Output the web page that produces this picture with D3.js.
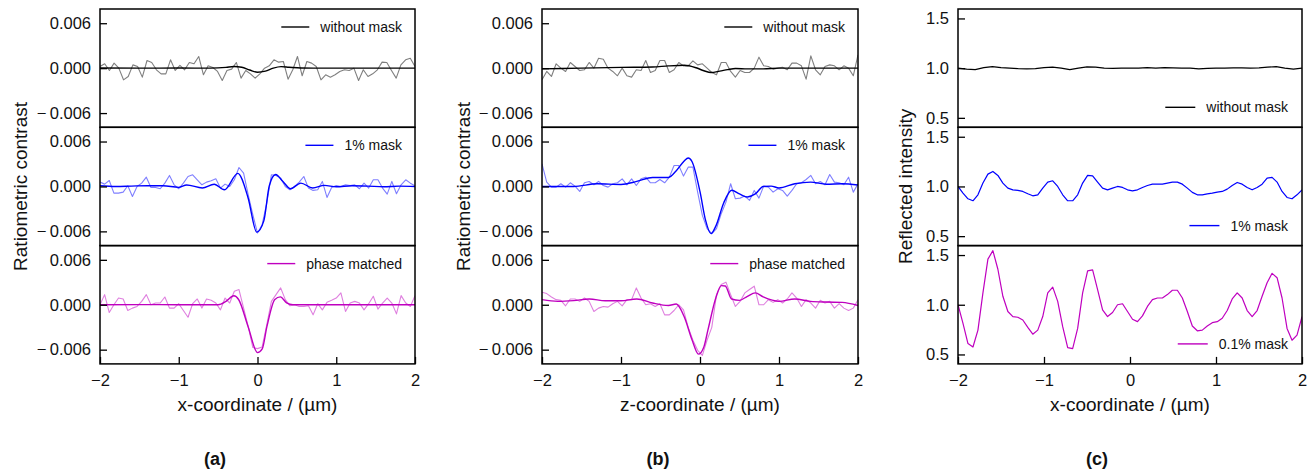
<!DOCTYPE html>
<html lang="en">
<head>
<meta charset="UTF-8">
<title>Ratiometric contrast</title>
<script src="https://cdn.jsdelivr.net/npm/d3@7"></script>
<style>
  body { margin: 0; background: #fff; }
  svg text { font-family: "Liberation Sans", Arial, sans-serif; fill: #111; }
</style>
</head>
<body>
<svg width="1315" height="470"></svg>
<script>
// ticks
var xTicks = [-2, -1, 0, 1, 2];
var xTickLabels = ['\u22122', '\u22121', '0', '1', '2'];
var contrastTicks = [-6, 0, 6];               // in units of 10^-3
var contrastTickLabels = ['\u2212\u20090.006', '0.000', '0.006'];
var intensityTicks = [0.5, 1.0, 1.5];
var intensityTickLabels = ['0.5', '1.0', '1.5'];

// (a) raw measurements, evenly spaced over -2..2 um (x 10^-3)
var aRawNoMask = [0.22, 0.58, -0.31, 0.67, 0, -1.56, -1.11, 0.44, 0.22, -1.2,
  1.02, 0.76, -0.22, -0.76, -0.76, 1.11, -0.31, 0.36, -0.22, 0.76,
  0.58, 1.56, -0.89, 0.31, 0.09, -0.44, -1.64, -0.31, -0.13, 0.76,
  -1.33, -0.31, -0.76, -1.33, -0.76, 0, 0.31, 1.11, 0.8, 0.89,
  -1.47, -0.22, 1.56, -1.02, 0.89, 0.67, 0.22, -1.56, -0.89, -1.2,
  -0.89, -0.44, -0.22, -0.31, 0, -1.64, -0.22, -1.11, -0.76, -0.22,
  0.8, 0.76, -0.31, -1.33, 0.44, 1.11, 1.33, 0.22];
var aRawMask = [0.58, 0.31, 0.8, -0.89, -0.89, -0.76, 0.09, -1.33, 0, 0.44,
  1.24, -0.13, -0.13, -0.31, 0.44, 1.47, 0.22, -0.31, 0.44, 1.33,
  1.56, 0.89, 0.22, 0.58, 0.76, 1.02, -0.22, 0.31, 0, 0.89,
  2.53, 1.78, -1.11, -3.78, -6.22, -5.11, -2.22, 1.56, 1.47, 1.11,
  0, -0.44, 0, 0.58, 1.33, -0.22, -0.53, -0.44, 0.67, -1.47,
  -0.13, 0.13, 0, 0.22, 0.13, 0.22, -0.31, 0.44, -0.22, 0.89,
  0.89, -0.22, -1.02, 0.67, -0.98, 0.22, 0.89, 0.44, 0.09];
var aRawPhase = [0, 1.35, -1.04, 0, 0.9, 0.77, -0.77, -0.45, -0.23, 0.45,
  1.35, 0, 0.23, 0.23, 1.04, -0.45, -0.45, 0.14, -0.77, -1.67,
  0.14, 0.77, -0.45, 0.77, 0.59, 0.23, -0.68, 0.9, 0.23, 1.8,
  2.03, -0.45, -2.93, -5.72, -5.86, -5.63, -2.7, 0.45, 1.35, 2.25,
  0.68, -0.14, 0, -0.23, -0.23, -0.14, -1.35, 0.14, -0.68, 0.32,
  0.59, 0.9, 1.58, -0.9, 0.23, 0.45, 0.23, -0.68, 0.14, 1.13,
  -0.59, 0.23, 0.9, 0.23, -1.22, 1.22, 0.23, -0.23, 1.22];

// (a) fitted curves [x um, value x 10^-3]
var aFitNoMask = [[-2, 0.02], [-1.5, 0], [-1, 0.02], [-0.6, 0], [-0.4, 0.1], [-0.3, 0.22],
  [-0.2, 0.12], [-0.1, -0.25], [0, -0.55], [0.1, -0.4], [0.2, 0], [0.3, 0.2],
  [0.4, 0.12], [0.55, 0.02], [1, 0], [1.5, 0], [2, 0]];
var aFitMask = [[-2, 0.1], [-1.8, 0], [-1.6, 0.05], [-1.4, 0.1], [-1.2, 0.1], [-1.0, -0.12],
  [-0.9, 0.2], [-0.7, -0.2], [-0.55, 0.3], [-0.42, -0.45], [-0.25, 1.75], [-0.12, -1.5],
  [-0.01, -6.1], [0.08, -4.6], [0.15, 0.1], [0.23, 1.6], [0.32, 0.7], [0.42, -0.3],
  [0.55, 0.45], [0.7, -0.2], [0.85, 0.15], [1.0, -0.05], [1.2, 0.1], [1.4, 0.05],
  [1.6, -0.05], [1.8, 0.05], [2, 0]];
var aFitPhase = [[-2, 0], [-1.5, 0.02], [-1, 0], [-0.5, 0], [-0.4, 0.45], [-0.3, 1.2],
  [-0.24, 0.7], [-0.12, -2.9], [0, -6.4], [0.06, -5.9], [0.12, -2.9], [0.22, 0.7],
  [0.29, 1.05], [0.37, 0.25], [0.45, 0], [1, 0], [1.5, 0], [2, 0]];

// (b) raw measurements, evenly spaced over -2..2 um (x 10^-3)
var bRawNoMask = [-1.56, -0.44, -1.11, 0.58, 0, -0.44, 0.76, 0.22, -0.31, -0.22,
  0.76, 0, 1.33, 1.2, 0, -0.44, -1.02, 0, -1.02, -1.2,
  -0.22, -0.31, 1.02, -0.58, -0.31, 1.02, 1.02, -0.58, -0.22, 0.76,
  0.31, 0.31, 0.98, 0.44, 0.58, 0, -0.58, -0.89, 0.76, 0.76,
  -0.44, -1.2, -0.31, -0.58, -0.58, 0, 1.47, 0.31, 0.22, -0.13,
  0, 0.13, -0.22, 0.67, 0.67, 0.31, -1.47, 1.64, -0.22, -0.89,
  0.22, 0.44, 0.31, -0.22, 0.31, 0, -1.02, 1.78];
var bRawMask = [3.02, 0.58, -0.09, -0.09, 0.36, -0.09, 0.49, 0.04, -0.67, 0.49,
  0.67, 0.22, 0.67, 0.13, -0.09, 0.36, 0.49, 1.02, 0.22, 1.02,
  0.13, 1.02, 1.24, 0.49, 0.49, 0.93, 0.49, 1.24, 2.8, 2.8,
  1.38, 2.58, 2.58, -0.76, -3.87, -5.64, -6.31, -5.64, -3.64, -2.09,
  0.36, -1.64, -1.56, -1.29, -1.87, -0.53, -1.56, 0.04, -0.09, -0.76,
  -0.31, -0.53, -1.29, -0.53, 0.36, 0.49, 0.93, 1.47, 0.36, 0.67,
  0.22, 1.6, 0.58, 0.49, 0.22, 1.24, -0.76, 0.36];
var bRawPhase = [1.67, 1.49, 1.04, 0.68, 0.59, -0.14, 0.77, 0.77, 0.45, 0.9,
  0.45, -0.9, -0.45, -0.23, -0.32, 0.14, 0.45, -0.14, 0.68, 0.68,
  2.25, 0.9, 0, 0.14, -0.23, 0.14, -1.35, -1.35, -0.77, 0,
  -0.68, -3.02, -4.73, -6.08, -6.76, -4.73, -3.02, 1.35, 2.7, 3.02,
  1.35, -0.23, 0.45, 1.58, 2.03, 2.48, 0, 0, 0.68, 0.32,
  0.68, 0.23, 0.77, 1.58, 0.9, -0.23, 0.68, 0.23, -0.45, 0.59,
  0.23, 0.45, -0.45, 0.14, -0.45, -0.77, -0.45, 0.68];

// (b) fitted curves [z um, value x 10^-3]
var bFitNoMask = [[-2, -0.1], [-1.5, 0], [-1, 0.1], [-0.6, 0.15], [-0.4, 0.3], [-0.2, 0.38],
  [-0.05, 0.05], [0.05, -0.35], [0.14, -0.58], [0.25, -0.4], [0.35, -0.2], [0.45, -0.05],
  [0.6, -0.1], [0.8, -0.1], [1.0, 0], [1.5, 0], [2, 0]];
var bFitMask = [[-2, 0], [-1.6, 0], [-1.3, 0.36], [-1.0, 0.27], [-0.8, 0.67], [-0.6, 1.2],
  [-0.4, 1.2], [-0.3, 2.1], [-0.2, 3.4], [-0.15, 3.8], [-0.1, 3.3], [0.0, -0.7],
  [0.07, -4.5], [0.14, -6.3], [0.2, -5.3], [0.3, -2.2], [0.4, -0.5], [0.5, -1.0],
  [0.6, -1.4], [0.7, -1.0], [0.8, 0], [0.9, 0.05], [1.0, -0.2], [1.2, 0.36],
  [1.4, 0.58], [1.6, 0.3], [1.8, 0.36], [2, 0.2]];
var bFitPhase = [[-2, 0.68], [-1.8, 0.45], [-1.6, 0.55], [-1.4, 0.77], [-1.2, 0.54], [-1.0, 0.54],
  [-0.8, 0.77], [-0.6, 0.23], [-0.4, -0.1], [-0.3, 0.1], [-0.2, -1.6], [-0.1, -4.7],
  [-0.02, -6.6], [0.05, -5.6], [0.1, -3.4], [0.2, 0.9], [0.27, 2.55], [0.32, 2.5],
  [0.4, 0.77], [0.5, 0.59], [0.6, 1.13], [0.7, 1.58], [0.8, 1.04], [1.0, 0.45],
  [1.2, 0.77], [1.4, 0.45], [1.6, 0.36], [1.8, 0.32], [2, -0.1]];

// (c) reflected intensity, evenly spaced over -2..2 um
var cNoMask = [1.0, 0.99, 0.985, 1.005, 1.015, 1.005, 1.0, 0.995, 0.993, 0.995,
  1.005, 1.01, 1.0, 0.985, 1.0, 1.013, 1.01, 1.0, 0.998, 1.0,
  1.0, 1.0, 1.005, 1.0, 1.005, 1.003, 1.0, 1.0, 0.993, 0.997,
  1.0, 1.0, 1.003, 1.003, 1.0, 1.003, 1.01, 1.015, 1.0, 0.99, 1.0];
var cMask1 = [1.0, 0.933, 0.876, 0.856, 0.916, 1.034, 1.124, 1.151, 1.111, 1.034,
  0.983, 0.966, 0.96, 0.95, 0.926, 0.906, 0.916, 0.983, 1.044, 1.057,
  1.0, 0.916, 0.856, 0.856, 0.916, 1.034, 1.111, 1.107, 1.044, 0.983,
  0.966, 0.983, 1.0, 0.99, 0.966, 0.956, 0.966, 0.99, 1.01, 1.023,
  1.023, 1.023, 1.034, 1.044, 1.044, 1.023, 0.983, 0.94, 0.916, 0.916,
  0.926, 0.933, 0.943, 0.95, 0.973, 1.01, 1.04, 1.023, 0.99, 0.966,
  0.99, 1.023, 1.084, 1.091, 1.044, 0.95, 0.889, 0.876, 0.916, 0.966];
var cMask01 = [1.0, 0.813, 0.609, 0.575, 0.745, 1.119, 1.459, 1.544, 1.357, 1.085,
  0.932, 0.881, 0.874, 0.847, 0.772, 0.704, 0.745, 0.881, 1.119, 1.177,
  1.034, 0.779, 0.568, 0.558, 0.762, 1.119, 1.34, 1.35, 1.153, 0.949,
  0.881, 0.922, 1.0, 1.01, 0.932, 0.854, 0.83, 0.888, 0.983, 1.051,
  1.068, 1.068, 1.102, 1.146, 1.146, 1.068, 0.932, 0.786, 0.738, 0.745,
  0.786, 0.82, 0.83, 0.864, 0.942, 1.058, 1.119, 1.068, 0.942, 0.881,
  0.942, 1.085, 1.221, 1.316, 1.272, 1.068, 0.762, 0.643, 0.694, 0.881];

var svg = d3.select('svg');
var rowTops = [9, 127.3, 245.6];
var rowH = 118.3;
var plotBottom = rowTops[2] + rowH;

var panels = [
  {left: 100, right: 415, xTitle: 'x-coordinate / (\u00b5m)', yTitle: 'Ratiometric contrast', yTitleX: 20,
   label: '(a)', labelX: 215, yDomain: [-7.9, 7.9], ticks: contrastTicks, tickLabels: contrastTickLabels,
   legendTop: true,
   rows: [
     {raw: aRawNoMask, fit: aFitNoMask, color: '#000000', legend: 'without mask'},
     {raw: aRawMask, fit: aFitMask, color: '#0000ff', legend: '1% mask'},
     {raw: aRawPhase, fit: aFitPhase, color: '#bf00bf', legend: 'phase matched'}
   ]},
  {left: 542, right: 858, xTitle: 'z-coordinate / (\u00b5m)', yTitle: 'Ratiometric contrast', yTitleX: 463,
   label: '(b)', labelX: 658, yDomain: [-7.9, 7.9], ticks: contrastTicks, tickLabels: contrastTickLabels,
   legendTop: true,
   rows: [
     {raw: bRawNoMask, fit: bFitNoMask, color: '#000000', legend: 'without mask'},
     {raw: bRawMask, fit: bFitMask, color: '#0000ff', legend: '1% mask'},
     {raw: bRawPhase, fit: bFitPhase, color: '#bf00bf', legend: 'phase matched'}
   ]},
  {left: 958, right: 1302, xTitle: 'x-coordinate / (\u00b5m)', yTitle: 'Reflected intensity', yTitleX: 905,
   label: '(c)', labelX: 1097, yDomain: [0.405, 1.595], ticks: intensityTicks, tickLabels: intensityTickLabels,
   legendTop: false,
   rows: [
     {line: cNoMask, color: '#000000', legend: 'without mask'},
     {line: cMask1, color: '#0000ff', legend: '1% mask'},
     {line: cMask01, color: '#bf00bf', legend: '0.1% mask'}
   ]}
];

panels.forEach(function(p, pi) {
  var x = d3.scaleLinear().domain([-2, 2]).range([p.left, p.right]);
  var g = svg.append('g');

  p.rows.forEach(function(r, k) {
    var top = rowTops[k], bottom = top + rowH;
    var y = d3.scaleLinear().domain(p.yDomain).range([bottom, top]);
    var clipId = 'clip' + pi + '_' + k;
    svg.append('clipPath').attr('id', clipId).append('rect')
      .attr('x', p.left).attr('y', top).attr('width', p.right - p.left).attr('height', rowH);
    var lines = g.append('g').attr('clip-path', 'url(#' + clipId + ')');

    if (r.raw) {
      var xi = d3.scaleLinear().domain([0, r.raw.length - 1]).range([-2, 2]);
      lines.append('path').datum(r.raw)
        .attr('fill', 'none').attr('stroke', r.color).attr('stroke-opacity', 0.5)
        .attr('stroke-width', 1.1).attr('stroke-linejoin', 'round')
        .attr('d', d3.line().x(function(d, i) { return x(xi(i)); }).y(function(d) { return y(d); }));
    }
    if (r.fit) {
      lines.append('path').datum(r.fit)
        .attr('fill', 'none').attr('stroke', r.color).attr('stroke-width', 1.4)
        .attr('d', d3.line().curve(d3.curveMonotoneX)
          .x(function(d) { return x(d[0]); }).y(function(d) { return y(d[1]); }));
    }
    if (r.line) {
      var xl = d3.scaleLinear().domain([0, r.line.length - 1]).range([-2, 2]);
      lines.append('path').datum(r.line)
        .attr('fill', 'none').attr('stroke', r.color).attr('stroke-width', 1.2)
        .attr('stroke-linejoin', 'round')
        .attr('d', d3.line().x(function(d, i) { return x(xl(i)); }).y(function(d) { return y(d); }));
    }

    // y axis, ticks pointing inward
    var ya = g.append('g')
      .attr('transform', 'translate(' + p.left + ',0)')
      .call(d3.axisLeft(y).tickValues(p.ticks)
        .tickFormat(function(d, i) { return p.tickLabels[i]; })
        .tickSizeInner(-7).tickSizeOuter(0).tickPadding(9));
    ya.select('.domain').remove();
    ya.selectAll('line').attr('stroke', '#000').attr('stroke-width', 1.3);
    ya.selectAll('text').attr('font-size', 16.5).attr('fill', '#111');
    ya.attr('font-family', null);

    g.append('rect')
      .attr('x', p.left).attr('y', top).attr('width', p.right - p.left).attr('height', rowH)
      .attr('fill', 'none').attr('stroke', '#000').attr('stroke-width', 1.5);

    // legend
    var lg = g.append('g');
    var tx = lg.append('text').text(r.legend).attr('font-size', 14).attr('text-anchor', 'end');
    var lineLen, gap, ly;
    if (p.legendTop) {
      tx.attr('x', p.right - 13).attr('y', top + 23);
      lineLen = 28; gap = 11; ly = top + 18;
    } else {
      tx.attr('x', p.right - 14).attr('y', bottom - 15);
      lineLen = 30; gap = 11; ly = bottom - 20;
    }
    var tStart = (p.right - (p.legendTop ? 13 : 14)) - tx.node().getComputedTextLength();
    lg.append('line')
      .attr('x1', tStart - gap - lineLen).attr('x2', tStart - gap)
      .attr('y1', ly).attr('y2', ly)
      .attr('stroke', r.color).attr('stroke-width', 1.4);
  });

  // x axis on the bottom row only
  var xa = g.append('g')
    .attr('transform', 'translate(0,' + plotBottom + ')')
    .call(d3.axisBottom(x).tickValues(xTicks)
      .tickFormat(function(d, i) { return xTickLabels[i]; })
      .tickSizeInner(-7).tickSizeOuter(0).tickPadding(10));
  xa.select('.domain').remove();
  xa.selectAll('line').attr('stroke', '#000').attr('stroke-width', 1.3);
  xa.selectAll('text').attr('font-size', 16.5).attr('fill', '#111');
  xa.attr('font-family', null);

  g.append('text')
    .attr('x', (p.left + p.right) / 2).attr('y', 411)
    .attr('text-anchor', 'middle').attr('font-size', 19)
    .text(p.xTitle);

  g.append('text')
    .attr('transform', 'translate(' + p.yTitleX + ',' + ((rowTops[0] + plotBottom) / 2) + ') rotate(-90)')
    .attr('text-anchor', 'middle').attr('dy', '0.35em').attr('font-size', 19)
    .text(p.yTitle);

  g.append('text')
    .attr('x', p.labelX).attr('y', 465)
    .attr('text-anchor', 'middle').attr('font-size', 18).attr('font-weight', 'bold')
    .text(p.label);
});
</script>
</body>
</html>
